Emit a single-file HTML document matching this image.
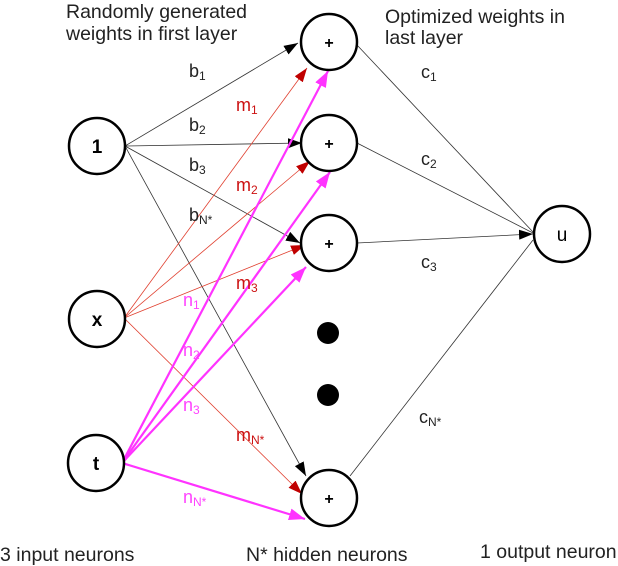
<!DOCTYPE html>
<html><head><style>
html,body{margin:0;padding:0;background:#fff;}
svg{display:block;}
text{font-family:"Liberation Sans",sans-serif;}
</style></head><body>
<svg width="618" height="566" viewBox="0 0 618 566" xmlns="http://www.w3.org/2000/svg">
<defs>
<marker id="ak" markerWidth="14" markerHeight="10" refX="14" refY="5" orient="auto" markerUnits="userSpaceOnUse"><path d="M0,0 L14,5 L0,10 z" fill="#000"/></marker>
<marker id="ar" markerWidth="14" markerHeight="10" refX="14" refY="5" orient="auto" markerUnits="userSpaceOnUse"><path d="M0,0 L14,5 L0,10 z" fill="#c00000"/></marker>
<marker id="am" markerWidth="16" markerHeight="12" refX="16" refY="6" orient="auto" markerUnits="userSpaceOnUse"><path d="M0,0 L16,6 L0,12 z" fill="#ff33ff"/></marker>
</defs>
<g stroke="#333" stroke-width="0.8" fill="none">
<line x1="125" y1="146" x2="298" y2="43" marker-end="url(#ak)"/>
<line x1="125" y1="146" x2="302" y2="143" marker-end="url(#ak)"/>
<line x1="125" y1="146" x2="300" y2="243" marker-end="url(#ak)"/>
<line x1="125" y1="146" x2="306" y2="476" marker-end="url(#ak)"/>
<line x1="357" y1="45" x2="533" y2="232"/>
<line x1="357" y1="143" x2="533" y2="233"/>
<line x1="357" y1="243" x2="533" y2="234" marker-end="url(#ak)"/>
<line x1="350" y1="476" x2="533" y2="240"/>
</g>
<g stroke="#e04030" stroke-width="0.8" fill="none">
<line x1="124" y1="318" x2="307" y2="68" marker-end="url(#ar)"/>
<line x1="124" y1="318" x2="310" y2="161" marker-end="url(#ar)"/>
<line x1="124" y1="318" x2="305" y2="245" marker-end="url(#ar)"/>
<line x1="124" y1="318" x2="302" y2="494" marker-end="url(#ar)"/>
</g>
<g stroke="#ff33ff" stroke-width="2.2" fill="none">
<line x1="122" y1="463" x2="328" y2="71" marker-end="url(#am)"/>
<line x1="122" y1="463" x2="330" y2="172" marker-end="url(#am)"/>
<line x1="122" y1="463" x2="306" y2="267" marker-end="url(#am)"/>
<line x1="122" y1="463" x2="305" y2="519" marker-end="url(#am)"/>
</g>
<g stroke="#000" stroke-width="2.5" fill="#fff">
<circle cx="97" cy="146" r="28"/>
<circle cx="97" cy="319" r="28"/>
<circle cx="96" cy="463" r="28"/>
<circle cx="329" cy="42" r="28"/>
<circle cx="329" cy="143" r="28"/>
<circle cx="329" cy="243" r="28"/>
<circle cx="329" cy="498" r="28"/>
<circle cx="562" cy="234" r="28"/>
</g>
<circle cx="328" cy="333" r="11" fill="#000"/>
<circle cx="328" cy="395" r="11" fill="#000"/>
<g font-size="19" font-weight="bold" text-anchor="middle">
<text x="97" y="153">1</text>
<text x="97" y="326">x</text>
<text x="96" y="470">t</text>
<text x="329" y="48" font-size="16">+</text>
<text x="329" y="149" font-size="16">+</text>
<text x="329" y="249" font-size="16">+</text>
<text x="329" y="504" font-size="16">+</text>
</g>
<text x="562" y="241" font-size="19" text-anchor="middle">u</text>
<g font-size="19.5" fill="#222">
<text x="66" y="18">Randomly generated</text>
<text x="66" y="40">weights in first layer</text>
<text x="385" y="23">Optimized weights in</text>
<text x="385" y="44">last layer</text>
<text x="0" y="561">3 input neurons</text>
<text x="246" y="561">N* hidden neurons</text>
<text x="480" y="558">1 output neuron</text>
</g>
<g font-size="18" fill="#222">
<text x="189" y="77">b<tspan font-size="12" dy="3">1</tspan></text>
<text x="189" y="131">b<tspan font-size="12" dy="3">2</tspan></text>
<text x="189" y="171">b<tspan font-size="12" dy="3">3</tspan></text>
<text x="189" y="221">b<tspan font-size="12" dy="3">N*</tspan></text>
<text x="421" y="78">c<tspan font-size="12" dy="3">1</tspan></text>
<text x="421" y="165">c<tspan font-size="12" dy="3">2</tspan></text>
<text x="421" y="268">c<tspan font-size="12" dy="3">3</tspan></text>
<text x="419" y="423">c<tspan font-size="12" dy="3">N*</tspan></text>
</g>
<g font-size="18" fill="#cc1111">
<text x="236" y="111">m<tspan font-size="12" dy="3">1</tspan></text>
<text x="236" y="191">m<tspan font-size="12" dy="3">2</tspan></text>
<text x="236" y="289">m<tspan font-size="12" dy="3">3</tspan></text>
<text x="236" y="441">m<tspan font-size="12" dy="3">N*</tspan></text>
</g>
<g font-size="18" fill="#ff44ff">
<text x="183" y="306">n<tspan font-size="12" dy="3">1</tspan></text>
<text x="183" y="356">n<tspan font-size="12" dy="3">2</tspan></text>
<text x="183" y="411">n<tspan font-size="12" dy="3">3</tspan></text>
<text x="183" y="503">n<tspan font-size="12" dy="3">N*</tspan></text>
</g>
</svg>
</body></html>
